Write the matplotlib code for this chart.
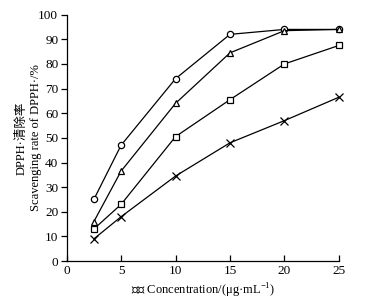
import matplotlib.pyplot as plt

plt.rcParams['font.family'] = ['Liberation Serif', 'Noto Sans CJK SC']
plt.rcParams['mathtext.fontset'] = 'custom'
plt.rcParams['mathtext.rm'] = 'Liberation Serif'

conc = [2.5, 5, 10, 15, 20, 25]
circle_vals = [25, 47, 74, 92, 94, 94]
triangle_vals = [16, 36.5, 64, 84.5, 93.5, 94]
square_vals = [13, 23, 50.5, 65.5, 80, 87.5]
cross_vals = [9, 18, 34.5, 48, 57, 66.5]

fig = plt.figure(figsize=(3.68, 3.05), dpi=100)
ax = fig.add_axes([0.181, 0.144, 0.74, 0.808])

style = dict(color='black', lw=0.9, mfc='white', mec='black', mew=0.9, clip_on=False)
ax.plot(conc, circle_vals, marker='o', ms=4.5, **style)
ax.plot(conc, triangle_vals, marker='^', ms=5, **style)
ax.plot(conc, square_vals, marker='s', ms=4, **style)
ax.plot(conc, cross_vals, marker='x', ms=5.5, **style)

ax.set_xlim(0, 25)
ax.set_ylim(0, 100)
ax.set_xticks([0, 5, 10, 15, 20, 25])
ax.set_yticks(range(0, 101, 10))
ax.spines['top'].set_visible(False)
ax.spines['right'].set_visible(False)
for s in ['left', 'bottom']:
    ax.spines[s].set_linewidth(0.9)
ax.tick_params(axis='x', direction='in', length=4, width=0.9, labelsize=9.5, pad=3)
ax.tick_params(axis='y', direction='out', length=4, width=0.9, labelsize=9.5, pad=2)

ax.set_xlabel('浓度 Concentration/(μg·mL$^{-1}$)', fontsize=9, labelpad=3)
ax.set_ylabel('DPPH·清除率\nScavenging rate of DPPH·/%', fontsize=9, labelpad=-3,
              linespacing=1.3)

fig.savefig('out.png', dpi=100)
